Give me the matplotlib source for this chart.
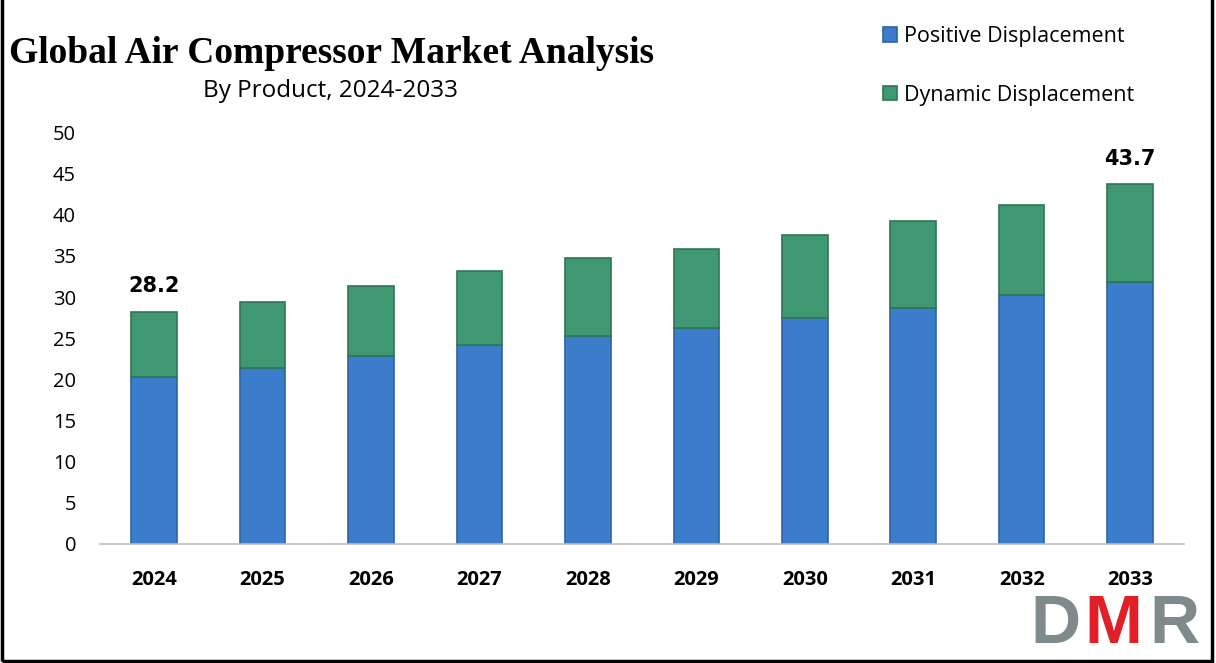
"""Global air compressor market by product, stacked bars 2024-2033."""

import matplotlib.pyplot as plt
import numpy as np
from matplotlib.patches import Rectangle

years = ["2024", "2025", "2026", "2027", "2028", "2029", "2030", "2031", "2032", "2033"]
positive = [20.3, 21.4, 22.8, 24.2, 25.3, 26.2, 27.5, 28.7, 30.2, 31.8]
dynamic = [7.9, 8.0, 8.5, 9.0, 9.4, 9.6, 10.1, 10.6, 11.0, 11.9]
labelled = {"2024": "28.2", "2033": "43.7"}

BLUE = "#3B7DCB"
GREEN = "#3F9872"

fig = plt.figure(figsize=(12.16, 6.63), dpi=100)
ax = fig.add_axes([0.082, 0.18, 0.892, 0.62])

x = np.arange(len(years))
ax.bar(x, positive, width=0.42, color=BLUE, edgecolor="#2E64A6", linewidth=1.2,
       label="Positive Displacement")
ax.bar(x, dynamic, width=0.42, bottom=positive, color=GREEN, edgecolor="#2F7658",
       linewidth=1.2, label="Dynamic Displacement")

totals = np.array(positive) + np.array(dynamic)
for i, year in enumerate(years):
    if year in labelled:
        ax.text(x[i], totals[i] + 1.9, labelled[year], ha="center", va="bottom",
                fontsize=15, fontweight="bold", family="DejaVu Sans")

ax.set_xlim(-0.5, len(years) - 0.5)
ax.set_ylim(0, 50)
ax.set_yticks(range(0, 51, 5))
ax.set_xticks(x)
ax.set_xticklabels(years, fontsize=14.5, fontweight="bold", family="Open Sans")
for lbl in ax.get_yticklabels():
    lbl.set_family("Open Sans")
ax.tick_params(axis="y", labelsize=14.5, length=0, pad=17)
ax.tick_params(axis="x", length=0, pad=19)
for side in ("top", "right", "left"):
    ax.spines[side].set_visible(False)
ax.spines["bottom"].set_color("#BFBFBF")
ax.spines["bottom"].set_linewidth(1.2)

fig.text(0.007, 0.92, "Global Air Compressor Market Analysis", fontsize=27,
         fontweight="bold", family="Liberation Serif", va="center", ha="left")
fig.text(0.272, 0.862, "By Product, 2024-2033", fontsize=17.5, family="Open Sans",
         va="center", ha="center")

fig.legend(loc="upper left", bbox_to_anchor=(0.71, 0.99), frameon=False,
           prop={"family": "Open Sans", "size": 15.5},
           handlelength=0.65, handleheight=0.65, handletextpad=0.35, labelspacing=1.75)

# DMR logo
fig.text(0.847, 0.058, "D", color="#7F8A8C", fontsize=50, fontweight="bold",
         family="Liberation Sans", va="center", ha="left")
fig.text(0.892, 0.058, "M", color="#E01F26", fontsize=50, fontweight="bold",
         family="Liberation Sans", va="center", ha="left")
fig.text(0.945, 0.058, "R", color="#7F8A8C", fontsize=50, fontweight="bold",
         family="Liberation Sans", va="center", ha="left")

fig.patches.append(Rectangle((0.002, 0.003), 0.995, 1.2, transform=fig.transFigure,
                             fill=False, edgecolor="black", linewidth=2.5))

fig.savefig("out.png", dpi=100)
